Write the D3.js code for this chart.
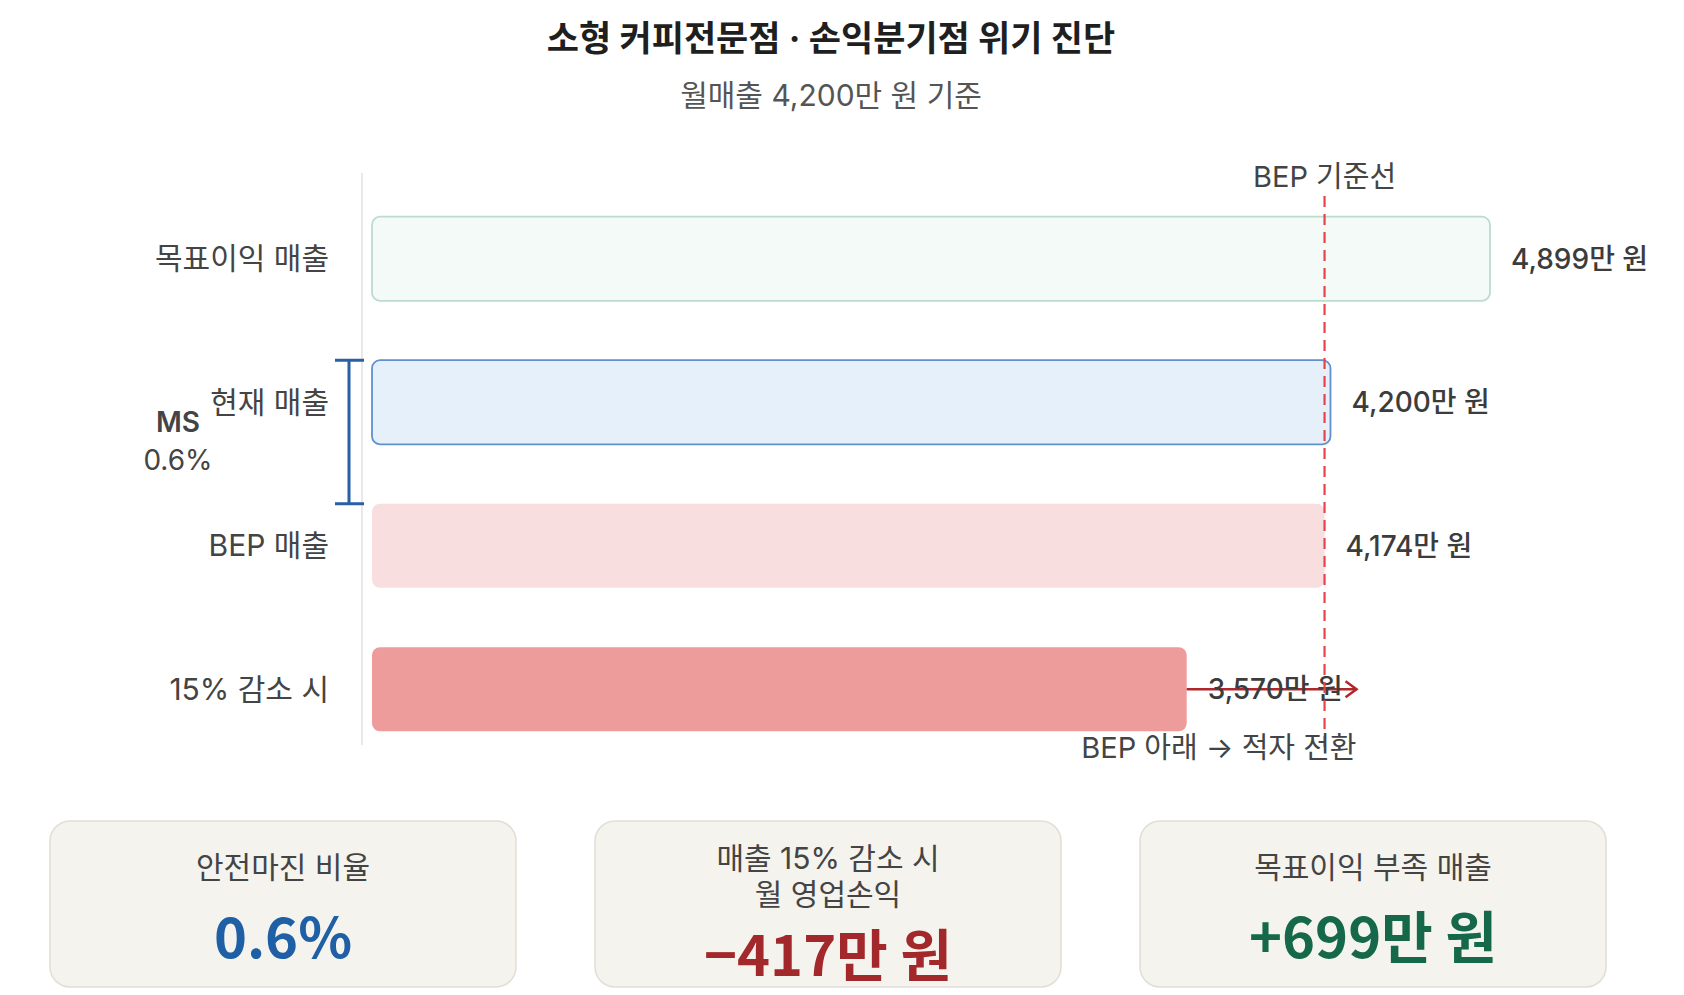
<!DOCTYPE html>
<html>
<head>
<meta charset="utf-8">
<script src="https://cdn.jsdelivr.net/npm/d3@7"></script>
<style>
  body { margin: 0; background: #fff; }
  svg { display: block; font-family: "Inter", "Noto Sans CJK KR", sans-serif; }
</style>
</head>
<body>
<svg id="chart"></svg>
<script>
// values in 만 원
var categories = ["목표이익 매출", "현재 매출", "BEP 매출", "15% 감소 시"];
var values = [4899, 4200, 4174, 3570];
var bepValue = 4174;
var msRatio = "0.6%";

var barFills = ["#f3faf7", "#e6f0fa", "#f9dedf", "#ee9b9c"];
var barStrokes = ["#bcdccd", "#5f91cc", "none", "none"];

var cardTitles = [["안전마진 비율"], ["매출 15% 감소 시", "월 영업손익"], ["목표이익 부족 매출"]];
var cardValues = ["0.6%", "−417만 원", "+699만 원"];
var cardColors = ["#1f5fa6", "#a3282c", "#15684a"];

var width = 1684, height = 995;

var svg = d3.select("#chart")
  .attr("width", width)
  .attr("height", height);

var fmt = d3.format(",");

// title
svg.append("text")
  .attr("x", 831).attr("y", 51)
  .attr("text-anchor", "middle")
  .attr("font-size", 35).attr("font-weight", 700)
  .attr("fill", "#1f1f1f")
  .text("소형 커피전문점 · 손익분기점 위기 진단");

svg.append("text")
  .attr("x", 831).attr("y", 106)
  .attr("text-anchor", "middle")
  .attr("font-size", 30)
  .attr("fill", "#555")
  .text("월매출 4,200만 원 기준");

var xScale = d3.scaleLinear()
  .domain([0, d3.max(values)])
  .range([372, 1490]);

var yScale = d3.scaleBand()
  .domain(categories)
  .range([187, 761])
  .paddingInner(0.414)
  .paddingOuter(0.207);

// axis line
svg.append("line")
  .attr("x1", 362).attr("x2", 362)
  .attr("y1", 173).attr("y2", 745)
  .attr("stroke", "#e2e2e2").attr("stroke-width", 1.5);

var rows = categories.map(function(c, i) {
  return { cat: c, value: values[i], fill: barFills[i], stroke: barStrokes[i] };
});

svg.selectAll("rect.bar")
  .data(rows)
  .enter()
  .append("rect")
  .attr("class", "bar")
  .attr("x", xScale(0))
  .attr("y", function(d) { return yScale(d.cat); })
  .attr("width", function(d) { return xScale(d.value) - xScale(0); })
  .attr("height", yScale.bandwidth())
  .attr("rx", 8)
  .attr("fill", function(d) { return d.fill; })
  .attr("stroke", function(d) { return d.stroke; })
  .attr("stroke-width", 1.8);

// category labels
svg.selectAll("text.cat")
  .data(rows)
  .enter()
  .append("text")
  .attr("class", "cat")
  .attr("x", 329)
  .attr("y", function(d) { return yScale(d.cat) + yScale.bandwidth() / 2; })
  .attr("dy", "0.35em")
  .attr("text-anchor", "end")
  .attr("font-size", 30)
  .attr("fill", "#444")
  .text(function(d) { return d.cat; });

// drop arrow on last bar
var last = rows[rows.length - 1];
var arrowY = yScale(last.cat) + yScale.bandwidth() / 2;
var arrowEnd = xScale(bepValue) + 32;
svg.append("line")
  .attr("x1", xScale(last.value)).attr("x2", arrowEnd)
  .attr("y1", arrowY).attr("y2", arrowY)
  .attr("stroke", "#b0262b").attr("stroke-width", 2.5);
svg.append("path")
  .attr("d", "M" + (arrowEnd - 11) + "," + (arrowY - 8) + " L" + arrowEnd + "," + arrowY + " L" + (arrowEnd - 11) + "," + (arrowY + 8))
  .attr("fill", "none")
  .attr("stroke", "#b0262b").attr("stroke-width", 2.5);

// value labels
svg.selectAll("text.val")
  .data(rows)
  .enter()
  .append("text")
  .attr("class", "val")
  .attr("x", function(d) { return xScale(d.value) + 21; })
  .attr("y", function(d) { return yScale(d.cat) + yScale.bandwidth() / 2; })
  .attr("dy", "0.35em")
  .attr("font-size", 28)
  .attr("font-weight", 500)
  .attr("fill", "#3c3c3c")
  .text(function(d) { return fmt(d.value) + "만 원"; });

// BEP dashed line
var bx = xScale(bepValue);
svg.append("line")
  .attr("x1", bx).attr("x2", bx)
  .attr("y1", 196).attr("y2", 752)
  .attr("stroke", "#e8434b").attr("stroke-width", 2.2)
  .attr("stroke-dasharray", "11,7");

svg.append("text")
  .attr("x", bx).attr("y", 187)
  .attr("text-anchor", "middle")
  .attr("font-size", 29)
  .attr("fill", "#444")
  .text("BEP 기준선");

svg.append("text")
  .attr("x", arrowEnd).attr("y", 758)
  .attr("text-anchor", "end")
  .attr("font-size", 29)
  .attr("fill", "#444")
  .text("BEP 아래 → 적자 전환");

// MS bracket between current and BEP
var yTop = yScale(categories[1]);
var yBot = yScale(categories[2]);
var mx = 349;
svg.append("path")
  .attr("d", "M" + (mx - 14) + "," + yTop + " H" + (mx + 15) +
             " M" + mx + "," + yTop + " V" + yBot +
             " M" + (mx - 14) + "," + yBot + " H" + (mx + 15))
  .attr("fill", "none")
  .attr("stroke", "#2a5fa5").attr("stroke-width", 3);

svg.append("text")
  .attr("x", 178).attr("y", 432)
  .attr("text-anchor", "middle")
  .attr("font-size", 28).attr("font-weight", 600)
  .attr("fill", "#444")
  .text("MS");
svg.append("text")
  .attr("x", 178).attr("y", 470)
  .attr("text-anchor", "middle")
  .attr("font-size", 28)
  .attr("fill", "#444")
  .text(msRatio);

// cards
var cardX = d3.scaleBand()
  .domain(d3.range(cardValues.length))
  .range([50, 1606])
  .paddingInner(0.145);

var cards = svg.selectAll("g.card")
  .data(cardValues)
  .enter()
  .append("g")
  .attr("class", "card")
  .attr("transform", function(d, i) { return "translate(" + cardX(i) + ",821)"; });

cards.append("rect")
  .attr("width", cardX.bandwidth())
  .attr("height", 166)
  .attr("rx", 20)
  .attr("fill", "#f4f3ed")
  .attr("stroke", "#e1ded5")
  .attr("stroke-width", 1.5);

cards.each(function(d, i) {
  var g = d3.select(this);
  var cx = cardX.bandwidth() / 2;
  var lines = cardTitles[i];
  var startY = lines.length > 1 ? 48 : 57;
  lines.forEach(function(t, j) {
    g.append("text")
      .attr("x", cx).attr("y", startY + j * 36)
      .attr("text-anchor", "middle")
      .attr("font-size", 30)
      .attr("fill", "#444")
      .text(t);
  });
  g.append("text")
    .attr("x", cx).attr("y", lines.length > 1 ? 155 : 137)
    .attr("text-anchor", "middle")
    .attr("font-family", "Noto Sans CJK KR")
    .attr("font-size", 56).attr("font-weight", 700)
    .attr("fill", cardColors[i])
    .text(d);
});
</script>
</body>
</html>
